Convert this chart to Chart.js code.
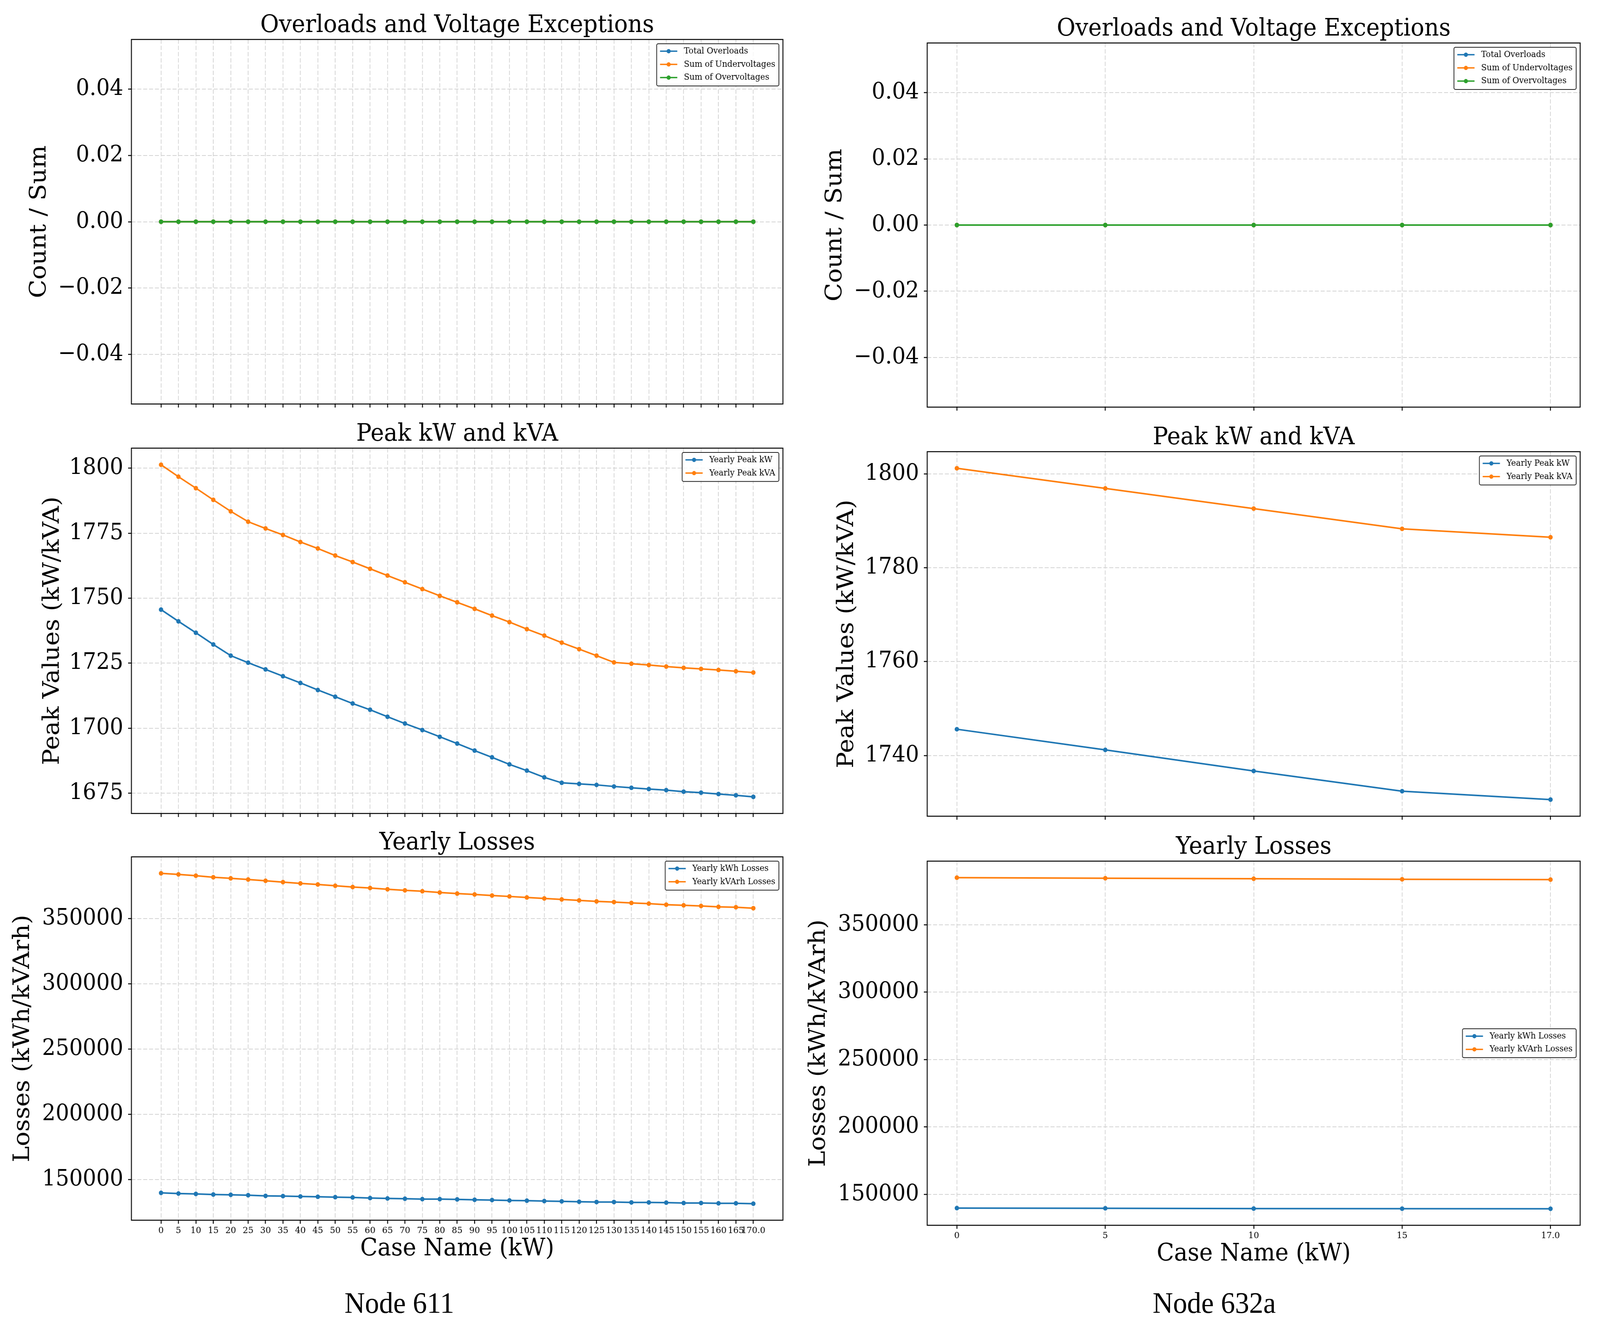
<!DOCTYPE html>
<html>
<head>
<meta charset="utf-8">
<script src="https://cdn.jsdelivr.net/npm/chart.js@4.4.1/dist/chart.umd.min.js"></script>
<style>
  html, body { margin: 0; padding: 0; background: #fff; overflow: hidden; }
  #stage { position: relative; overflow: hidden; background: #fff; }
  #figure {
    position: absolute;
    left: 0;
    top: 0;
    width: 4359px;
    height: 3404px;
    overflow: hidden;
    background: #fff;
    transform-origin: 0 0;
  }
  #figure canvas { position: absolute; }
  .node-caption {
    position: absolute;
    width: 800px;
    text-align: center;
    font-family: 'Liberation Serif', 'Times New Roman', serif;
    font-size: 77px;
    line-height: 77px;
    color: #000;
  }
</style>
</head>
<body>
<div id="stage">
  <div id="figure">
    <div class="node-caption" style="left: 688px; top: 3296px;">Node 611</div>
    <div class="node-caption" style="left: 2908px; top: 3296px;">Node 632a</div>
  </div>
</div>
<script>
// Node 611 cases (kW)
const caseLabels611 = ['0', '5', '10', '15', '20', '25', '30', '35', '40', '45', '50', '55', '60', '65', '70', '75', '80',
  '85', '90', '95', '100', '105', '110', '115', '120', '125', '130', '135', '140', '145', '150', '155', '160', '165', '170.0'];
const totalOverloads611 = [0, 0, 0, 0, 0, 0, 0, 0, 0, 0, 0, 0, 0, 0, 0, 0, 0, 0, 0, 0, 0, 0, 0, 0, 0, 0, 0, 0, 0, 0, 0, 0, 0, 0, 0];
const underVoltages611 = [0, 0, 0, 0, 0, 0, 0, 0, 0, 0, 0, 0, 0, 0, 0, 0, 0, 0, 0, 0, 0, 0, 0, 0, 0, 0, 0, 0, 0, 0, 0, 0, 0, 0, 0];
const overVoltages611 = [0, 0, 0, 0, 0, 0, 0, 0, 0, 0, 0, 0, 0, 0, 0, 0, 0, 0, 0, 0, 0, 0, 0, 0, 0, 0, 0, 0, 0, 0, 0, 0, 0, 0, 0];
const peakKw611 = [1745.6, 1741.1, 1736.7, 1732.2, 1727.9, 1725.2, 1722.6, 1720.0, 1717.4, 1714.7, 1712.1, 1709.5,
  1707.1, 1704.4, 1701.8, 1699.3, 1696.7, 1694.1, 1691.4, 1688.8, 1686.1, 1683.7, 1681.1, 1679.0, 1678.6, 1678.2,
  1677.6, 1677.1, 1676.6, 1676.2, 1675.6, 1675.2, 1674.7, 1674.2, 1673.6];
const peakKva611 = [1801.3, 1796.7, 1792.3, 1787.8, 1783.4, 1779.4, 1776.8, 1774.3, 1771.6, 1769.1, 1766.4, 1763.9,
  1761.3, 1758.7, 1756.1, 1753.5, 1750.9, 1748.4, 1745.9, 1743.3, 1740.8, 1738.1, 1735.6, 1732.9, 1730.4, 1727.9,
  1725.3, 1724.8, 1724.3, 1723.7, 1723.2, 1722.8, 1722.4, 1721.9, 1721.4];
const lossKwh611 = [139800, 139300, 139000, 138500, 138300, 138000, 137500, 137300, 137000, 136800, 136500, 136300,
  135800, 135500, 135300, 135000, 135000, 134800, 134500, 134300, 134000, 133800, 133500, 133300, 133000, 132800,
  132800, 132500, 132500, 132300, 132000, 132000, 131800, 131800, 131500];
const lossKvarh611 = [384700, 383900, 382900, 381700, 380900, 380000, 379000, 378000, 377000, 376200, 375200, 374200,
  373500, 372500, 371700, 371000, 370000, 369200, 368500, 367700, 367000, 366200, 365500, 364700, 364000, 363200,
  362700, 362000, 361500, 360700, 360200, 359700, 359000, 358700, 358000];

// Node 632a cases (kW)
const caseLabels632 = ['0', '5', '10', '15', '17.0'];
const totalOverloads632 = [0, 0, 0, 0, 0];
const underVoltages632 = [0, 0, 0, 0, 0];
const overVoltages632 = [0, 0, 0, 0, 0];
const peakKw632 = [1745.6, 1741.2, 1736.7, 1732.4, 1730.6];
const peakKva632 = [1801.2, 1796.9, 1792.6, 1788.3, 1786.5];
const lossKwh632 = [139800, 139650, 139450, 139400, 139350];
const lossKvarh632 = [384900, 384500, 384100, 383700, 383500];

// y tick values
const exceptionTicks = [-0.04, -0.02, 0, 0.02, 0.04];
const peakTicks611 = [1675, 1700, 1725, 1750, 1775, 1800];
const peakTicks632 = [1740, 1760, 1780, 1800];
const lossTicks = [150000, 200000, 250000, 300000, 350000];

const BLUE = '#1f77b4';
const ORANGE = '#ff7f0e';
const GREEN = '#2ca02c';
const GRID = '#d4d4d4';
const SERIF = "'DejaVu Serif', serif";

const FIG_W = 4359;
const FIG_H = 3404;

// the visible viewport is not always the requested size, so stretch the figure onto it
const stageEl = document.getElementById('stage');
const figureEl = document.getElementById('figure');
const viewW = window.innerWidth || FIG_W;
const viewH = window.innerHeight || FIG_H;
const scaleX = viewW / FIG_W;
const scaleY = viewH / FIG_H;
stageEl.style.width = viewW + 'px';
stageEl.style.height = viewH + 'px';
figureEl.style.transform = 'scale(' + scaleX + ', ' + scaleY + ')';
const renderRatio = Math.max(scaleX, scaleY) * (window.devicePixelRatio || 1);

Chart.defaults.font.family = SERIF;
Chart.defaults.color = '#000';

// matplotlib-like autoscale: data range plus 5% each side
function paddedRange(...series) {
  const all = series.flat();
  const lo = Math.min(...all);
  const hi = Math.max(...all);
  const m = (hi - lo) * 0.05;
  return [lo - m, hi + m];
}

function formatException(v) {
  return v.toFixed(2).replace('-', '\u2212');
}

function formatPlain(v) {
  return String(v);
}

const framePlugin = {
  id: 'frame',
  afterDatasetsDraw(chart) {
    const { ctx, chartArea: a } = chart;
    ctx.save();
    ctx.strokeStyle = '#000';
    ctx.lineWidth = 2.5;
    ctx.strokeRect(a.left, a.top, a.right - a.left, a.bottom - a.top);
    ctx.restore();
  },
};

function makeLegendPlugin(series, loc) {
  return {
    id: 'mplLegend',
    afterDraw(chart) {
      const { ctx, chartArea: a } = chart;
      ctx.save();
      ctx.font = '22px ' + SERIF;
      const textW = Math.max(...series.map((s) => ctx.measureText(s.label).width));
      const rowGap = 33.8;
      const boxW = 9 + 47 + 18 + textW + 10;
      const boxH = 40.4 + rowGap * (series.length - 1);
      const x = a.right - 11 - boxW;
      const y = loc === 'center right' ? (a.top + a.bottom) / 2 - boxH / 2 : a.top + 11;

      ctx.beginPath();
      ctx.roundRect(x, y, boxW, boxH, 4);
      ctx.fillStyle = 'rgba(255,255,255,0.8)';
      ctx.fill();
      ctx.lineWidth = 2;
      ctx.strokeStyle = '#222';
      ctx.stroke();

      series.forEach((s, i) => {
        const cy = y + 19 + i * rowGap;
        ctx.strokeStyle = s.color;
        ctx.lineWidth = 3.5;
        ctx.beginPath();
        ctx.moveTo(x + 9, cy);
        ctx.lineTo(x + 56, cy);
        ctx.stroke();
        ctx.fillStyle = s.color;
        ctx.beginPath();
        ctx.arc(x + 32.5, cy, 5.5, 0, Math.PI * 2);
        ctx.fill();
        ctx.fillStyle = '#000';
        ctx.textAlign = 'left';
        ctx.textBaseline = 'middle';
        ctx.fillText(s.label, x + 74, cy);
      });
      ctx.restore();
    },
  };
}

const exceptionSeries611 = [
  { label: 'Total Overloads', values: totalOverloads611, color: BLUE },
  { label: 'Sum of Undervoltages', values: underVoltages611, color: ORANGE },
  { label: 'Sum of Overvoltages', values: overVoltages611, color: GREEN },
];
const peakSeries611 = [
  { label: 'Yearly Peak kW', values: peakKw611, color: BLUE },
  { label: 'Yearly Peak kVA', values: peakKva611, color: ORANGE },
];
const lossSeries611 = [
  { label: 'Yearly kWh Losses', values: lossKwh611, color: BLUE },
  { label: 'Yearly kVArh Losses', values: lossKvarh611, color: ORANGE },
];
const exceptionSeries632 = [
  { label: 'Total Overloads', values: totalOverloads632, color: BLUE },
  { label: 'Sum of Undervoltages', values: underVoltages632, color: ORANGE },
  { label: 'Sum of Overvoltages', values: overVoltages632, color: GREEN },
];
const peakSeries632 = [
  { label: 'Yearly Peak kW', values: peakKw632, color: BLUE },
  { label: 'Yearly Peak kVA', values: peakKva632, color: ORANGE },
];
const lossSeries632 = [
  { label: 'Yearly kWh Losses', values: lossKwh632, color: BLUE },
  { label: 'Yearly kVArh Losses', values: lossKvarh632, color: ORANGE },
];

// axes boxes in figure pixels
const panels = [
  { L: 358, R: 2133, T: 101, B: 1034, yGap: 250, bottomRow: false,
    title: 'Overloads and Voltage Exceptions', ylabel: 'Count / Sum', labels: caseLabels611,
    series: exceptionSeries611, yRange: [-0.055, 0.055], yTicks: exceptionTicks, yFormat: formatException,
    legendLoc: 'upper right' },
  { L: 358, R: 2133, T: 1147, B: 2082, yGap: 214, bottomRow: false,
    title: 'Peak kW and kVA', ylabel: 'Peak Values (kW/kVA)', labels: caseLabels611,
    series: peakSeries611, yRange: paddedRange(peakKw611, peakKva611), yTicks: peakTicks611, yFormat: formatPlain,
    legendLoc: 'upper right' },
  { L: 358, R: 2133, T: 2193, B: 3123, yGap: 295, bottomRow: true,
    title: 'Yearly Losses', ylabel: 'Losses (kWh/kVArh)', labels: caseLabels611,
    series: lossSeries611, yRange: paddedRange(lossKwh611, lossKvarh611), yTicks: lossTicks, yFormat: formatPlain,
    legendLoc: 'upper right' },
  { L: 2526, R: 4305, T: 110, B: 1042, yGap: 250, bottomRow: false,
    title: 'Overloads and Voltage Exceptions', ylabel: 'Count / Sum', labels: caseLabels632,
    series: exceptionSeries632, yRange: [-0.055, 0.055], yTicks: exceptionTicks, yFormat: formatException,
    legendLoc: 'upper right' },
  { L: 2526, R: 4305, T: 1156, B: 2089, yGap: 218, bottomRow: false,
    title: 'Peak kW and kVA', ylabel: 'Peak Values (kW/kVA)', labels: caseLabels632,
    series: peakSeries632, yRange: paddedRange(peakKw632, peakKva632), yTicks: peakTicks632, yFormat: formatPlain,
    legendLoc: 'upper right' },
  { L: 2526, R: 4305, T: 2204, B: 3136, yGap: 295, bottomRow: true,
    title: 'Yearly Losses', ylabel: 'Losses (kWh/kVArh)', labels: caseLabels632,
    series: lossSeries632, yRange: paddedRange(lossKwh632, lossKvarh632), yTicks: lossTicks, yFormat: formatPlain,
    legendLoc: 'center right' },
];

function makeChart(p) {
  const yBoxWidth = p.yGap + 31;
  const xBoxHeight = p.bottomRow ? 105 : 12;
  const left = p.L - yBoxWidth;
  const top = p.T - 66;
  const width = p.R + 6 - left;
  const height = p.B + xBoxHeight - top;

  const canvas = document.createElement('canvas');
  canvas.style.left = left + 'px';
  canvas.style.top = top + 'px';
  canvas.style.width = width + 'px';
  canvas.style.height = height + 'px';
  canvas.width = width;
  canvas.height = height;
  figureEl.appendChild(canvas);

  const n = p.labels.length;
  const gridOpts = { color: GRID, lineWidth: 2, drawTicks: true, tickLength: 9, tickColor: '#000', tickWidth: 2.5 };

  return new Chart(canvas, {
    type: 'line',
    data: {
      datasets: p.series.map((s, i) => ({
        label: s.label,
        data: s.values.map((v, j) => ({ x: j, y: v })),
        borderColor: s.color,
        backgroundColor: s.color,
        pointBackgroundColor: s.color,
        pointBorderWidth: 0,
        pointRadius: 6,
        borderWidth: 4,
        tension: 0,
        order: p.series.length - i,
      })),
    },
    options: {
      responsive: false,
      animation: false,
      devicePixelRatio: renderRatio,
      layout: { padding: { left: 0, top: 0, right: 6, bottom: 0 } },
      plugins: {
        legend: { display: false },
        tooltip: { enabled: false },
        title: {
          display: true,
          text: p.title,
          fullSize: false,
          color: '#000',
          font: { size: 62, weight: 'normal', lineHeight: 1 },
          padding: { top: 0, bottom: 4 },
        },
      },
      scales: {
        x: {
          type: 'linear',
          min: -0.05 * (n - 1),
          max: 1.05 * (n - 1),
          afterBuildTicks: (s) => { s.ticks = p.labels.map((_, i) => ({ value: i })); },
          afterFit: (s) => { s.height = xBoxHeight; s.paddingLeft = 0; s.paddingRight = 0; },
          ticks: {
            autoSkip: false,
            maxRotation: 0,
            minRotation: 0,
            padding: 4,
            font: { size: 23 },
            callback: (v) => (p.bottomRow ? p.labels[v] : ''),
          },
          grid: gridOpts,
          border: { display: false, dash: [11, 5] },
          title: {
            display: p.bottomRow,
            text: 'Case Name (kW)',
            font: { size: 62, lineHeight: 1 },
            padding: 0,
          },
        },
        y: {
          type: 'linear',
          min: p.yRange[0],
          max: p.yRange[1],
          afterBuildTicks: (s) => { s.ticks = p.yTicks.map((v) => ({ value: v })); },
          afterFit: (s) => { s.width = yBoxWidth; s.paddingTop = 0; s.paddingBottom = 0; },
          ticks: { padding: 13, font: { size: 58 }, callback: p.yFormat },
          grid: gridOpts,
          border: { display: false, dash: [11, 5] },
          title: {
            display: true,
            text: p.ylabel,
            font: { size: 62, lineHeight: 1 },
            padding: 0,
          },
        },
      },
    },
    plugins: [framePlugin, makeLegendPlugin(p.series, p.legendLoc)],
  });
}

panels.forEach(makeChart);
</script>
</body>
</html>
